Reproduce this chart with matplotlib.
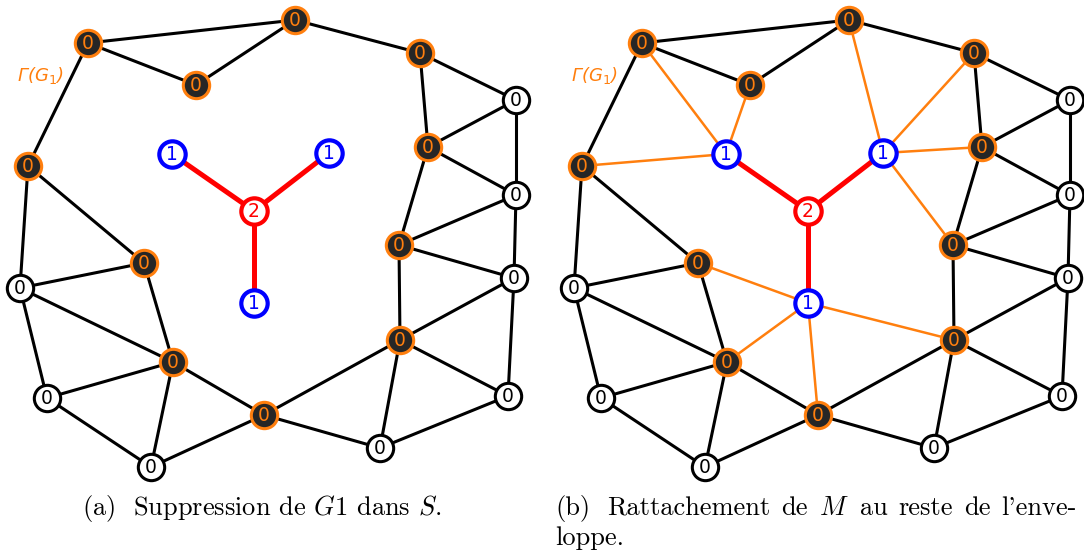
import matplotlib.pyplot as plt

plt.rcParams["mathtext.fontset"] = "cm"

ORANGE = "#ff7f0e"
DARK = "#262626"
BLUE = "#0000ff"
RED = "#ff0000"

# layout of the graph inside one panel, in pixels (y grows downward)
hull_names = ["A", "B", "C", "D", "E", "F", "G", "H", "I", "J", "K"]
hull_x = [88, 295, 196, 420, 28, 428, 144, 399, 173, 400, 264]
hull_y = [43, 20, 85, 53, 166, 147, 263, 245, 362, 340, 415]
hull_labels = [0] * 11

outer_names = ["W1", "W2", "W3", "W4", "W5", "W6", "W7", "W8"]
outer_x = [516, 516, 514, 20, 508, 47, 380, 151]
outer_y = [100, 195, 278, 288, 396, 398, 448, 467]
outer_labels = [0] * 8

m_names = ["M1", "M2", "M3", "M0"]
m_x = [172, 329, 254, 254]
m_y = [154, 153, 303, 211]
m_labels = [1, 1, 1, 2]

black_edges = [
    ("A", "B"), ("A", "C"), ("C", "B"), ("B", "D"), ("D", "W1"), ("A", "E"),
    ("D", "F"), ("F", "W1"), ("F", "W2"), ("W1", "W2"), ("F", "H"), ("W2", "H"),
    ("H", "W3"), ("W2", "W3"), ("H", "J"), ("W3", "J"), ("W3", "W5"), ("J", "W5"),
    ("J", "W7"), ("W7", "W5"), ("J", "K"), ("K", "W7"), ("K", "I"), ("K", "W8"),
    ("E", "G"), ("E", "W4"), ("W4", "G"), ("G", "I"), ("W4", "I"), ("W4", "W6"),
    ("W6", "I"), ("W6", "W8"), ("I", "W8"),
]
red_edges = [("M1", "M0"), ("M2", "M0"), ("M3", "M0")]
orange_edges = [
    ("M1", "A"), ("M1", "C"), ("M1", "E"),
    ("M2", "B"), ("M2", "D"), ("M2", "F"), ("M2", "H"),
    ("M3", "G"), ("M3", "I"), ("M3", "K"), ("M3", "J"),
]

caption_a = r"(a)  Suppression de $G1$ dans $S$."
caption_b_line1 = ["(b)", "Rattachement", "de", "$M$", "au", "reste", "de", "l'enve-"]
caption_b_line2 = "loppe."

pos = {}
for names, xs, ys in [(hull_names, hull_x, hull_y), (outer_names, outer_x, outer_y), (m_names, m_x, m_y)]:
    for n, x, y in zip(names, xs, ys):
        pos[n] = (x, y)


def draw_edges(ax, edges, color, lw):
    for u, v in edges:
        ax.plot([pos[u][0], pos[v][0]], [pos[u][1], pos[v][1]], color=color, lw=lw, zorder=1,
                solid_capstyle="butt")


def draw_nodes(ax, xs, ys, labels, face, edge, text_color, s, lw):
    ax.scatter(xs, ys, s=s, c=face, edgecolors=edge, linewidths=lw, zorder=3, clip_on=False)
    for x, y, lab in zip(xs, ys, labels):
        ax.text(x, y + 0.5, str(lab), color=text_color, fontsize=13.5, ha="center", va="center",
                zorder=4, family="DejaVu Sans")


def draw_panel(ax, attach):
    draw_edges(ax, black_edges, "black", 2.2)
    if attach:
        draw_edges(ax, orange_edges, ORANGE, 1.8)
    draw_edges(ax, red_edges, RED, 3.6)
    draw_nodes(ax, hull_x, hull_y, hull_labels, DARK, ORANGE, ORANGE, 360, 2.2)
    draw_nodes(ax, outer_x, outer_y, outer_labels, "white", "black", "black", 360, 2.2)
    draw_nodes(ax, m_x[:3], m_y[:3], m_labels[:3], "white", BLUE, BLUE, 360, 3.0)
    draw_nodes(ax, m_x[3:], m_y[3:], m_labels[3:], "white", RED, RED, 360, 3.0)
    ax.text(40, 75, r"Γ(G$_1$)", color=ORANGE, fontsize=13, style="italic", ha="center",
            va="center", family="DejaVu Sans", math_fontfamily="dejavusans")
    ax.set_xlim(0, 530)
    ax.set_ylim(551, 0)
    ax.axis("off")


W, H = 1084, 551
fig = plt.figure(figsize=(W / 100, H / 100), dpi=100)
ax_a = fig.add_axes([0, 0, 530 / W, 1])
ax_b = fig.add_axes([554 / W, 0, 530 / W, 1])
draw_panel(ax_a, attach=False)
draw_panel(ax_b, attach=True)

cap_font = ["cmr10", "DejaVu Serif"]
cap_size = 19
fig.text(262 / W, 1 - 515 / H, caption_a, fontsize=cap_size,
         ha="center", va="baseline", family=cap_font)

# justified first line of caption (b)
renderer = fig.canvas.get_renderer()
words = [fig.text(0, 1 - 515 / H, w, fontsize=cap_size, ha="left", va="baseline", family=cap_font)
         for w in caption_b_line1]
widths = [t.get_window_extent(renderer).width for t in words]
x0, x1 = 555, 1077
extra = 6
gap = (x1 - x0 - sum(widths) - extra) / (len(words) - 1)
x = x0
for i, (t, w) in enumerate(zip(words, widths)):
    t.set_x(x / W)
    x += w + gap + (extra if i == 0 else 0)
fig.text(555 / W, 1 - 545 / H, caption_b_line2, fontsize=cap_size, ha="left", va="baseline",
         family=cap_font)

fig.savefig("out.png", dpi=100)
